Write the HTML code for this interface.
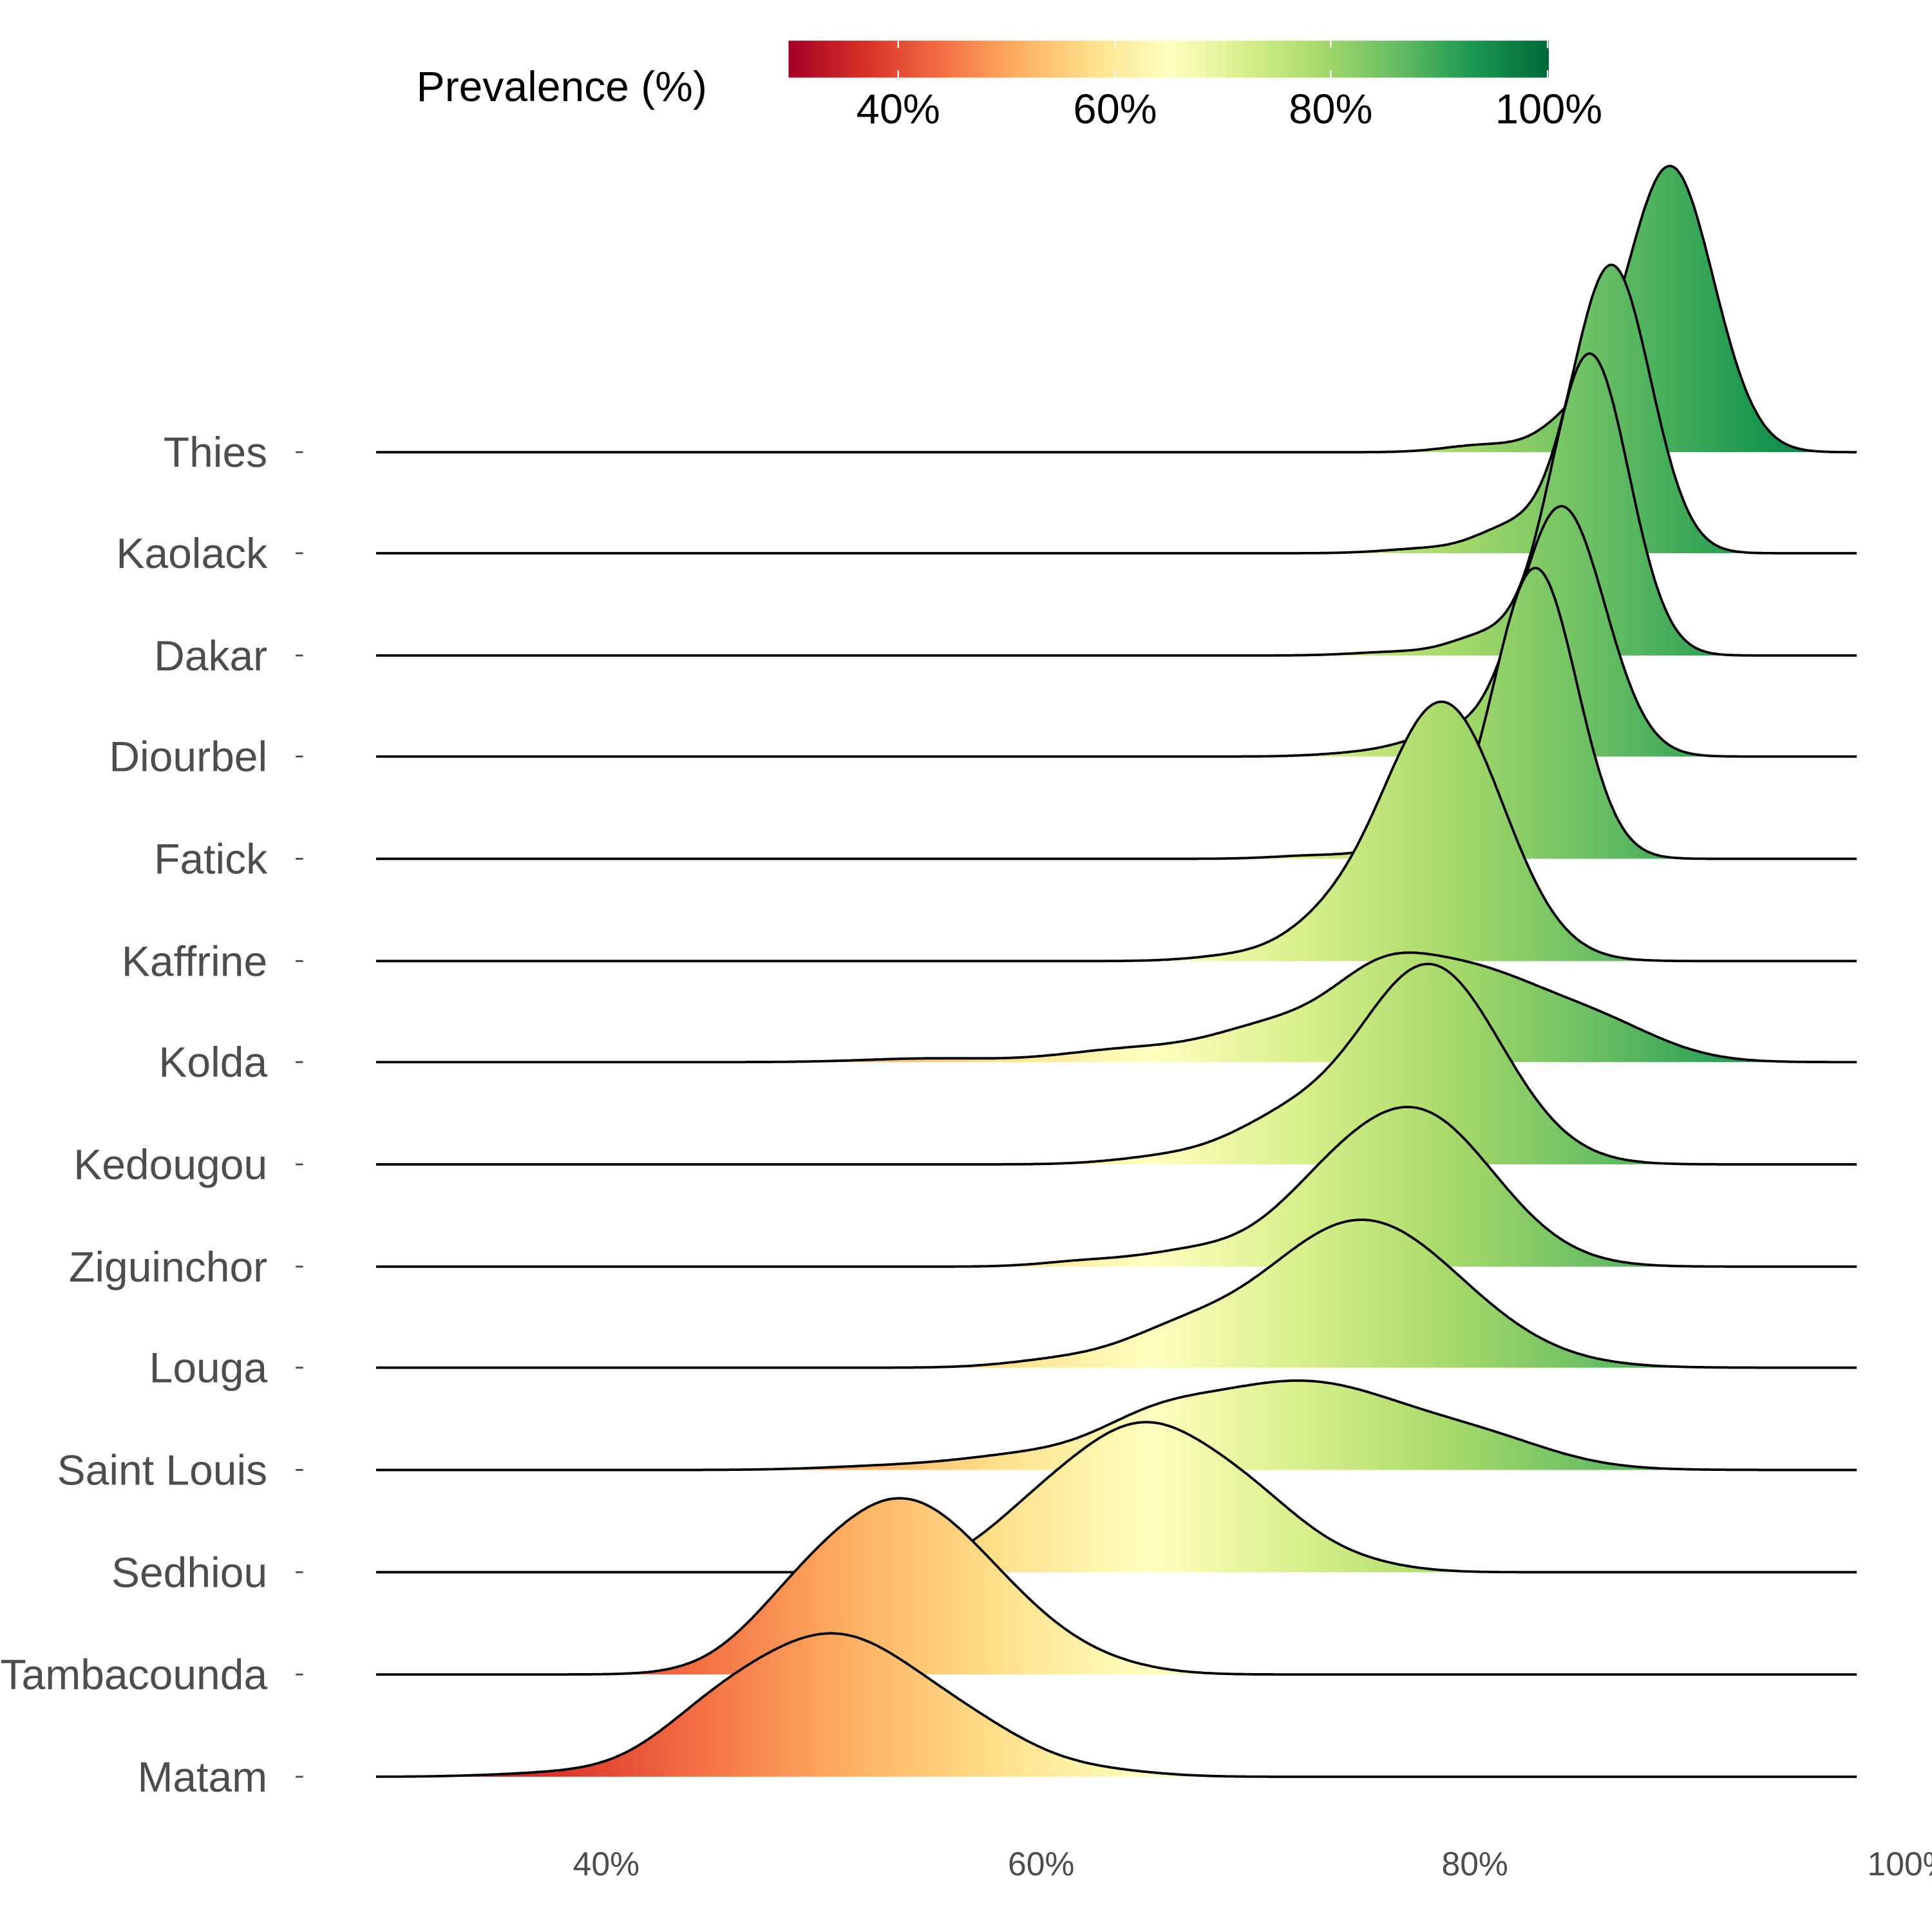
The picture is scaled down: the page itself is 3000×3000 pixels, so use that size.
<!DOCTYPE html>
<html><head><meta charset="utf-8"><style>
html,body{margin:0;padding:0;background:#fff}
svg{display:block}
text{font-family:"Liberation Sans",Arial,sans-serif}
</style></head><body>
<svg id="s" width="3000" height="3000" viewBox="0 0 1568 1568" xmlns="http://www.w3.org/2000/svg">
<defs>
<linearGradient id="g" gradientUnits="userSpaceOnUse" x1="316" y1="0" x2="1549" y2="0">
<stop offset="0" stop-color="#a50026"/><stop offset="0.1" stop-color="#d73027"/><stop offset="0.2" stop-color="#f46d43"/><stop offset="0.3" stop-color="#fdae61"/><stop offset="0.4" stop-color="#fee08b"/><stop offset="0.5" stop-color="#ffffbf"/><stop offset="0.6" stop-color="#d9ef8b"/><stop offset="0.7" stop-color="#a6d96a"/><stop offset="0.8" stop-color="#66bd63"/><stop offset="0.9" stop-color="#1a9850"/><stop offset="1" stop-color="#006837"/>
</linearGradient>
<linearGradient id="gb" gradientUnits="userSpaceOnUse" x1="640" y1="0" x2="1257" y2="0">
<stop offset="0" stop-color="#a50026"/><stop offset="0.1" stop-color="#d73027"/><stop offset="0.2" stop-color="#f46d43"/><stop offset="0.3" stop-color="#fdae61"/><stop offset="0.4" stop-color="#fee08b"/><stop offset="0.5" stop-color="#ffffbf"/><stop offset="0.6" stop-color="#d9ef8b"/><stop offset="0.7" stop-color="#a6d96a"/><stop offset="0.8" stop-color="#66bd63"/><stop offset="0.9" stop-color="#1a9850"/><stop offset="1" stop-color="#006837"/>
</linearGradient>
</defs>
<rect x="640" y="33" width="617" height="30" fill="url(#gb)"/>
<g stroke="#fff" stroke-width="1.2">
<line x1="729" y1="33" x2="729" y2="39"/><line x1="729" y1="57" x2="729" y2="63"/>
<line x1="905" y1="33" x2="905" y2="39"/><line x1="905" y1="57" x2="905" y2="63"/>
<line x1="1080" y1="33" x2="1080" y2="39"/><line x1="1080" y1="57" x2="1080" y2="63"/>
<line x1="1256" y1="33" x2="1256" y2="39"/><line x1="1256" y1="57" x2="1256" y2="63"/>
</g>
<text x="338" y="82" font-size="34.5" fill="#000">Prevalence (%)</text>
<g font-size="34" fill="#000" text-anchor="middle">
<text x="729" y="100">40%</text><text x="905" y="100">60%</text><text x="1080" y="100">80%</text><text x="1257" y="100">100%</text>
</g>
<g id="ridges"></g>
<g font-size="34.5" fill="#4d4d4d" text-anchor="end">
<text x="217" y="379">Thies</text><text x="217" y="461">Kaolack</text><text x="217" y="544">Dakar</text><text x="217" y="626">Diourbel</text><text x="217" y="709">Fatick</text><text x="217" y="792">Kaffrine</text><text x="217" y="874">Kolda</text><text x="217" y="957">Kedougou</text><text x="217" y="1040">Ziguinchor</text><text x="217" y="1122">Louga</text><text x="217" y="1205">Saint Louis</text><text x="217" y="1288">Sedhiou</text><text x="217" y="1371">Tambacounda</text><text x="217" y="1454">Matam</text>
</g>
<g stroke="#4d4d4d" stroke-width="1.5">
<line x1="240" y1="367" x2="246" y2="367"/><line x1="240" y1="449" x2="246" y2="449"/><line x1="240" y1="532" x2="246" y2="532"/><line x1="240" y1="614" x2="246" y2="614"/><line x1="240" y1="697" x2="246" y2="697"/><line x1="240" y1="780" x2="246" y2="780"/><line x1="240" y1="862" x2="246" y2="862"/><line x1="240" y1="945" x2="246" y2="945"/><line x1="240" y1="1028" x2="246" y2="1028"/><line x1="240" y1="1110" x2="246" y2="1110"/><line x1="240" y1="1193" x2="246" y2="1193"/><line x1="240" y1="1276" x2="246" y2="1276"/><line x1="240" y1="1359" x2="246" y2="1359"/><line x1="240" y1="1442" x2="246" y2="1442"/>
</g>
<g font-size="27" fill="#4d4d4d" text-anchor="middle">
<text x="492" y="1522">40%</text><text x="845" y="1522">60%</text><text x="1197" y="1522">80%</text><text x="1550" y="1522">100%</text>
</g>
</svg>
<script>
(function(){
var X=function(v){return 492+(v-40)*17.62;};
var rows=[
[367,[[89,2.0,232],[84.6,1.5,24],[80.5,1.8,6]]],
[449,[[86.3,1.8,234],[81.5,1.5,18],[78,2,4]]],
[532,[[85.3,1.8,245],[80.3,1.5,14],[76.5,2,3]]],
[614,[[84,2.0,203],[78.5,1.8,16],[75,2,3]]],
[697,[[82.8,1.9,236],[77,1.5,12],[73,2,3]]],
[780,[[78.5,2.8,210],[73,2,20],[69,2,4]]],
[862,[[79.5,3.3,70],[75.5,2.2,40],[71,3,30],[85.5,3,30],[64,3,10],[55,3,3]]],
[945,[[77.9,3.3,162],[71,2.5,28],[66,2.5,6]]],
[1028,[[77.3,3.6,125],[72.5,2.5,25],[67,2.5,12],[62,2,4]]],
[1110,[[74.8,4.6,120],[66,2.5,18],[61,2.5,6]]],
[1193,[[72,5.5,72],[65,2.5,18],[59,3,9],[81,3,12],[53,3,3]]],
[1276,[[64.8,3.4,114],[59.5,2.6,30],[70,2.5,35],[74,2.5,8]]],
[1359,[[53.5,3.8,138],[48.3,2.4,22],[59,2.8,20],[63,2.5,5]]],
[1442,[[50.5,4.3,114],[44.5,2.6,22],[57.5,2.8,18],[63,2.5,4],[38,3,3]]]
];
var g=document.getElementById('ridges'),ns='http://www.w3.org/2000/svg';
rows.forEach(function(r){
 var y0=r[0],gs=r[1],pts=[];
 for(var v=29.4;v<=97.61;v+=0.1){
  var h=0;gs.forEach(function(q){var d=(v-q[0])/q[1];h+=q[2]*Math.exp(-0.5*d*d);});
  pts.push(X(v).toFixed(1)+','+(y0-h).toFixed(1));
 }
 var line='M'+pts.join(' L');
 var f=document.createElementNS(ns,'path');
 f.setAttribute('d',line+' L'+X(97.6).toFixed(1)+','+y0+' L'+X(29.4).toFixed(1)+','+y0+' Z');
 f.setAttribute('fill','url(#g)');g.appendChild(f);
 var s=document.createElementNS(ns,'path');
 s.setAttribute('d',line);s.setAttribute('fill','none');s.setAttribute('stroke','#000');s.setAttribute('stroke-width','2');
 g.appendChild(s);
});
})();
</script>
</body></html>
